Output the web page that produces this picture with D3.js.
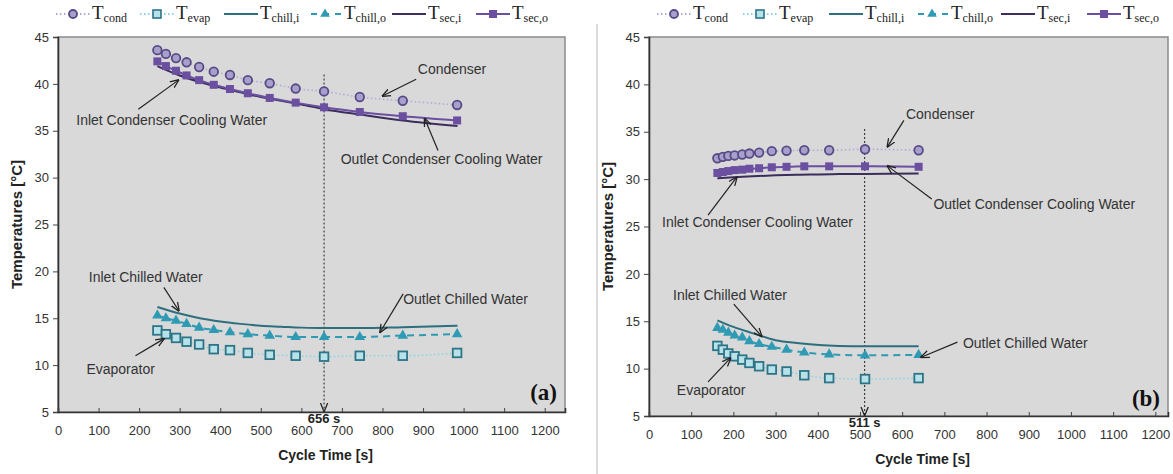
<!DOCTYPE html>
<html>
<head>
<meta charset="utf-8">
<script src="https://cdn.jsdelivr.net/npm/d3@7"></script>
<style>
body{margin:0;background:#fff}
</style>
</head>
<body>
<svg id="chart" width="1173" height="474" style="font-family:Arial,'Liberation Sans',sans-serif"></svg>
<script>
/**** DATA (a) ****/
const timeA   = [245,266,291,317,348,384,424,468,522,586,656,744,850,984];
const condA   = [43.6,43.2,42.75,42.3,41.8,41.3,40.95,40.4,40.07,39.5,39.2,38.6,38.2,37.75];
const secOutA = [42.4,41.9,41.4,40.9,40.4,39.9,39.45,39.0,38.5,38.0,37.5,37.0,36.55,36.1];
const chillOutA = [15.3,15.0,14.75,14.4,14.0,13.75,13.5,13.3,13.15,13.0,13.0,13.0,13.15,13.3];
const evapA   = [13.7,13.3,12.9,12.5,12.2,11.7,11.6,11.3,11.1,11.0,10.9,11.0,11.0,11.3];
const lineTimeA = [245,300,350,400,450,500,550,600,656,750,850,985];
const chillInA  = [16.2,15.5,15.0,14.65,14.4,14.2,14.1,14.0,13.95,13.95,14.05,14.2];
const secInA    = [41.9,40.9,40.2,39.6,39.1,38.6,38.2,37.8,37.3,36.7,36.1,35.5];

/**** DATA (b) ****/
const timeB   = [162,175,188,203,221,238,261,291,326,368,427,512,639];
const condB   = [32.2,32.35,32.45,32.5,32.6,32.7,32.8,32.95,33.0,33.05,33.05,33.15,33.05];
const secOutB = [30.65,30.75,30.85,30.95,31.0,31.1,31.15,31.25,31.3,31.35,31.35,31.35,31.3];
const chillOutB = [14.3,14.1,13.8,13.5,13.3,12.9,12.6,12.3,12.0,11.7,11.5,11.4,11.45];
const evapB   = [12.4,12.0,11.6,11.3,10.95,10.6,10.25,9.9,9.7,9.3,9.0,8.9,9.0];
const lineTimeB = [162,200,245,300,350,403,450,512,639];
const chillInB  = [15.1,14.4,13.75,13.0,12.7,12.5,12.4,12.35,12.35];
const secInB    = [30.1,30.2,30.3,30.4,30.47,30.5,30.53,30.55,30.6];

const xTicks = [0,100,200,300,400,500,600,700,800,900,1000,1100,1200];
const yTicks = [5,10,15,20,25,30,35,40,45];
const legendSubs = ["cond","evap","chill,i","chill,o","sec,i","sec,o"];

// annotations: text at (tx,ty), arrow from (x0,y0) to (x1,y1), data units
const notesA = [
  {t:"Condenser", tx:887, ty:41.6, x0:883, y0:40.5, x1:800, y1:38.7},
  {t:"Inlet Condenser Cooling Water", tx:45, ty:36.2, x0:198, y0:37.3, x1:297, y1:40.4},
  {t:"Outlet Condenser Cooling Water", tx:697, ty:32.0, x0:937, y0:32.9, x1:904, y1:36.3},
  {t:"Inlet Chilled Water", tx:76, ty:19.4, x0:261, y0:18.3, x1:298, y1:15.8},
  {t:"Outlet Chilled Water", tx:851, ty:17.1, x0:851, y0:17.6, x1:794, y1:13.5},
  {t:"Evaporator", tx:70, ty:9.6, x0:191, y0:11.0, x1:261, y1:12.8}
];
const notesB = [
  {t:"Condenser", tx:609, ty:36.9, x0:604, y0:36.2, x1:565, y1:33.4},
  {t:"Outlet Condenser Cooling Water", tx:674, ty:27.4, x0:670, y0:27.9, x1:565, y1:31.4},
  {t:"Inlet Condenser Cooling Water", tx:31, ty:25.5, x0:140, y0:26.2, x1:208, y1:30.2},
  {t:"Inlet Chilled Water", tx:57, ty:17.8, x0:201, y0:16.8, x1:267, y1:13.4},
  {t:"Outlet Chilled Water", tx:744, ty:12.7, x0:731, y0:12.8, x1:645, y1:11.2},
  {t:"Evaporator", tx:66, ty:7.75, x0:140, y0:8.6, x1:193, y1:11.1}
];

const svg = d3.select("#chart");
const SERIF = "'Liberation Serif','Times New Roman',serif";
const SANS = "Arial,'Liberation Sans',sans-serif";

svg.append("defs").append("marker")
  .attr("id","arr").attr("viewBox","0 0 10 10").attr("refX",9).attr("refY",5)
  .attr("markerWidth",9).attr("markerHeight",9).attr("orient","auto-start-reverse")
  .attr("markerUnits","userSpaceOnUse")
  .append("path").attr("d","M0,1 L10,5 L0,9").attr("fill","none").attr("stroke","#222").attr("stroke-width",1.4);

const col = {
  cond:"#b2a9d6", condStroke:"#574a85", condFill:"#a99fcc",
  evap:"#8dd3e3", evapStroke:"#2d7487", evapFill:"#b8e2ea",
  chillIn:"#2d6f7f", chillOut:"#2f9ab4",
  secIn:"#3b2d5c", secOut:"#6b4fa0"
};

function drawPanel(p) {
  const g = svg.append("g");
  const x = d3.scaleLinear().domain([0,p.xMax]).range([p.left,p.right]);
  const y = d3.scaleLinear().domain([5,45]).range([p.bottom,p.top]);

  g.append("rect").attr("x",p.left).attr("y",p.top)
    .attr("width",p.right-p.left).attr("height",p.bottom-p.top)
    .attr("fill","#d9d9d9").attr("stroke","#8a8a8a").attr("stroke-width",1.5);

  // axes
  const ya = g.append("g").attr("transform","translate("+p.left+",0)")
    .call(d3.axisLeft(y).tickValues(yTicks).tickSize(5).tickPadding(4));
  const xa = g.append("g").attr("transform","translate(0,"+p.bottom+")")
    .call(d3.axisBottom(x).tickValues(xTicks).tickFormat(d3.format("d")).tickSize(-4).tickPadding(14));
  [ya,xa].forEach(function (a) {
    a.select(".domain").attr("stroke","#333").attr("stroke-width",1.6);
    a.selectAll(".tick line").attr("stroke","#444");
    a.selectAll("text").attr("font-size",13).attr("fill","#333").style("font-family",SANS);
  });

  g.append("text").attr("x",(p.left+p.right)/2+14).attr("y",p.bottom+48)
    .attr("text-anchor","middle").attr("font-weight","bold").attr("font-size",14)
    .attr("fill","#222").text("Cycle Time [s]");
  g.append("text").attr("transform","translate("+(p.left-36)+","+((p.top+p.bottom)/2)+") rotate(-90)")
    .attr("text-anchor","middle").attr("font-weight","bold").attr("font-size",15)
    .attr("fill","#222").text("Temperatures [°C]");

  const line = d3.line().x(d => x(d[0])).y(d => y(d[1])).curve(d3.curveMonotoneX);
  const pairs = (ts,vs) => ts.map((t,i) => [t,vs[i]]);

  // vertical marker line
  g.append("line").attr("x1",x(p.vt)).attr("x2",x(p.vt))
    .attr("y1",y(p.vTop)).attr("y2",p.bottom-1)
    .attr("stroke","#333").attr("stroke-width",1.1).attr("stroke-dasharray","2,2")
    .attr("marker-end","url(#arr)");
  g.append("text").attr("x",x(p.vt)).attr("y",p.bottom+11)
    .attr("text-anchor","middle").attr("font-size",13).attr("font-weight","bold")
    .attr("fill","#222").text(p.vt+" s");

  // lines
  g.append("path").attr("d",line(pairs(p.t,p.cond))).attr("fill","none")
    .attr("stroke",col.cond).attr("stroke-width",1.6).attr("stroke-dasharray","1.5,2.5");
  g.append("path").attr("d",line(pairs(p.t,p.evap))).attr("fill","none")
    .attr("stroke",col.evap).attr("stroke-width",1.6).attr("stroke-dasharray","1.5,2.5");
  g.append("path").attr("d",line(pairs(p.lt,p.secIn))).attr("fill","none")
    .attr("stroke",col.secIn).attr("stroke-width",2);
  g.append("path").attr("d",line(pairs(p.t,p.secOut))).attr("fill","none")
    .attr("stroke",col.secOut).attr("stroke-width",2);
  g.append("path").attr("d",line(pairs(p.lt,p.chillIn))).attr("fill","none")
    .attr("stroke",col.chillIn).attr("stroke-width",2);
  g.append("path").attr("d",line(pairs(p.t,p.chillOut))).attr("fill","none")
    .attr("stroke",col.chillOut).attr("stroke-width",2).attr("stroke-dasharray","7,5");

  // markers
  g.selectAll(null).data(pairs(p.t,p.cond)).enter().append("circle")
    .attr("cx",d => x(d[0])).attr("cy",d => y(d[1])).attr("r",4.3)
    .attr("fill",col.condFill).attr("stroke",col.condStroke).attr("stroke-width",1.8);
  g.selectAll(null).data(pairs(p.t,p.secOut)).enter().append("rect")
    .attr("x",d => x(d[0])-4).attr("y",d => y(d[1])-4).attr("width",8).attr("height",8)
    .attr("fill",col.secOut);
  g.selectAll(null).data(pairs(p.t,p.evap)).enter().append("rect")
    .attr("x",d => x(d[0])-4.3).attr("y",d => y(d[1])-4.3).attr("width",8.6).attr("height",8.6)
    .attr("fill",col.evapFill).attr("stroke",col.evapStroke).attr("stroke-width",1.8);
  const tri = d3.symbol().type(d3.symbolTriangle).size(48);
  g.selectAll(null).data(pairs(p.t,p.chillOut)).enter().append("path")
    .attr("d",tri).attr("transform",d => "translate("+x(d[0])+","+y(d[1])+")")
    .attr("fill",col.chillOut);

  // annotations
  p.notes.forEach(function (n) {
    g.append("line").attr("x1",x(n.x0)).attr("y1",y(n.y0)).attr("x2",x(n.x1)).attr("y2",y(n.y1))
      .attr("stroke","#222").attr("stroke-width",1.2).attr("marker-end","url(#arr)");
    g.append("text").attr("x",x(n.tx)).attr("y",y(n.ty)+5).attr("font-size",14)
      .attr("fill","#333").text(n.t);
  });

  g.append("text").attr("x",p.right-8).attr("y",y(p.tagY)+7).attr("text-anchor","end")
    .style("font-family",SERIF)
    .attr("font-weight","bold").attr("font-size",23).attr("fill","#111").text(p.tag);

  // legend
  const lg = g.append("g");
  legendSubs.forEach(function (s,i) {
    const lx = p.legX + i*p.legStep, ly = 14;
    const it = lg.append("g").attr("transform","translate("+lx+","+ly+")");
    const seg = it.append("line").attr("x1",0).attr("x2",34).attr("y1",0).attr("y2",0).attr("stroke-width",2);
    if (i===0) {
      seg.attr("stroke",col.cond).attr("stroke-dasharray","1.5,2.5");
      it.append("circle").attr("cx",17).attr("cy",0).attr("r",4).attr("fill",col.condFill)
        .attr("stroke",col.condStroke).attr("stroke-width",1.8);
    } else if (i===1) {
      seg.attr("stroke",col.evap).attr("stroke-dasharray","1.5,2.5");
      it.append("rect").attr("x",13).attr("y",-4).attr("width",8).attr("height",8)
        .attr("fill",col.evapFill).attr("stroke",col.evapStroke).attr("stroke-width",1.6);
    } else if (i===2) {
      seg.attr("stroke",col.chillIn);
    } else if (i===3) {
      seg.attr("stroke",col.chillOut).attr("stroke-dasharray","6,6").attr("x1",3);
      it.append("path").attr("d",d3.symbol().type(d3.symbolTriangle).size(40))
        .attr("transform","translate(17,0)").attr("fill",col.chillOut);
    } else if (i===4) {
      seg.attr("stroke",col.secIn);
    } else {
      seg.attr("stroke",col.secOut);
      it.append("rect").attr("x",13).attr("y",-4).attr("width",8).attr("height",8).attr("fill",col.secOut);
    }
    const tx = it.append("text").attr("x",36).attr("y",5)
      .style("font-family",SERIF).attr("font-size",19).attr("fill","#222");
    tx.append("tspan").text("T");
    tx.append("tspan").attr("font-size",12).attr("dy",3).text(s);
  });
}

drawPanel({left:58,right:565,top:37,bottom:412,xMax:1250,
  t:timeA,cond:condA,evap:evapA,secOut:secOutA,chillOut:chillOutA,
  lt:lineTimeA,secIn:secInA,chillIn:chillInA,
  vt:656,vTop:41.0,notes:notesA,tag:"(a)",tagY:7.0,legX:56,legStep:84});

drawPanel({left:649,right:1168,top:37,bottom:416,xMax:1230,
  t:timeB,cond:condB,evap:evapB,secOut:secOutB,chillOut:chillOutB,
  lt:lineTimeB,secIn:secInB,chillIn:chillInB,
  vt:511,vTop:35.3,notes:notesB,tag:"(b)",tagY:6.8,legX:657,legStep:86});

svg.append("line").attr("x1",597).attr("x2",597).attr("y1",24).attr("y2",474)
  .attr("stroke","#bbb").attr("stroke-width",1);
</script>
</body>
</html>
